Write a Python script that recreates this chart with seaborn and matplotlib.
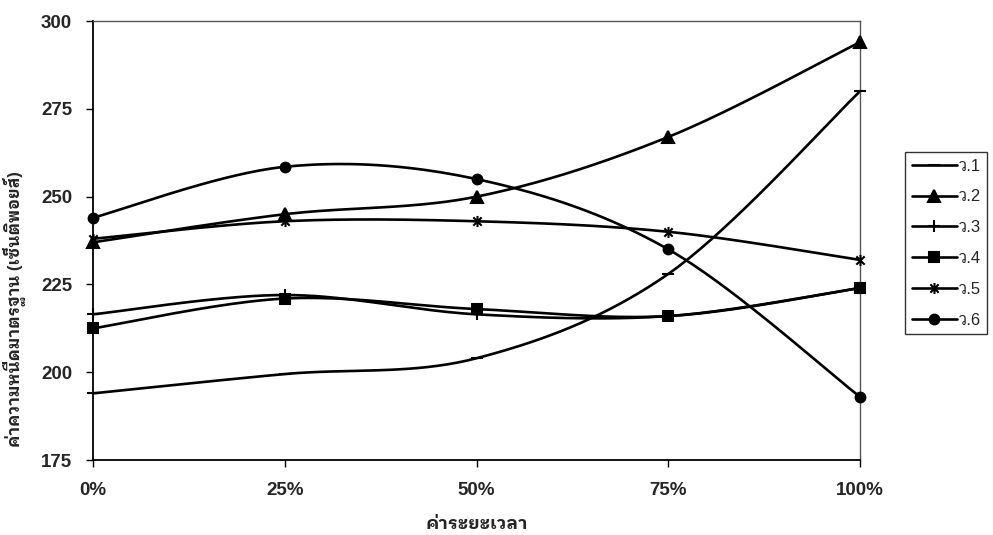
import numpy as np
import pandas as pd
import matplotlib
matplotlib.use("Agg")
import matplotlib.pyplot as plt
import seaborn as sns
from matplotlib.lines import Line2D
from matplotlib.path import Path

# ข้อมูล
periods = [0, 25, 50, 75, 100]
x_labels = ['0%', '25%', '50%', '75%', '100%']
series_names = ['ว.1', 'ว.2', 'ว.3', 'ว.4', 'ว.5', 'ว.6']
v1 = [194, 199.5, 204, 228, 280]
v2 = [237, 245, 250, 267, 294]
v3 = [216.5, 222, 216.5, 216, 224]
v4 = [212.5, 221, 218, 216, 224]
v5 = [238, 243, 243, 240, 232]
v6 = [244, 258.5, 255, 235, 193]
values = [v1, v2, v3, v4, v5, v6]


def smooth(xs, ys, n=40):
    # เส้นโค้งแบบ Excel (Catmull-Rom -> Bezier)
    p = np.column_stack([xs, ys]).astype(float)
    p = np.vstack([p[0], p, p[-1]])
    out = []
    t = np.linspace(0, 1, n)[:, None]
    for i in range(1, len(p) - 2):
        p0, p1, p2, p3 = p[i - 1], p[i], p[i + 1], p[i + 2]
        c1 = p1 + (p2 - p0) / 6
        c2 = p2 - (p3 - p1) / 6
        seg = ((1 - t) ** 3) * p1 + 3 * ((1 - t) ** 2) * t * c1 + 3 * (1 - t) * t ** 2 * c2 + t ** 3 * p2
        out.append(seg if i == 1 else seg[1:])
    out = np.vstack(out)
    return out[:, 0], out[:, 1]


rows = []
for name, vals in zip(series_names, values):
    sx, sy = smooth(periods, vals)
    rows.append(pd.DataFrame({'x': sx, 'y': sy, 'series': name}))
curves = pd.concat(rows, ignore_index=True)

star = Path([(0, -1), (0, 1), (-0.75, -0.75), (0.75, 0.75), (-0.75, 0.75), (0.75, -0.75)],
            [Path.MOVETO, Path.LINETO, Path.MOVETO, Path.LINETO, Path.MOVETO, Path.LINETO])
markers = ['_', '^', '+', 's', star, 'o']
msizes = [8, 8, 9, 7, 8, 7]

sns.set_style('white')
plt.rcParams['font.family'] = ['Liberation Sans', 'IBM Plex Sans Thai Looped', 'DejaVu Sans']

fig = plt.figure(figsize=(9.93, 5.35), dpi=100)
ax = fig.add_axes([0.0937, 0.14, 0.7724, 0.8207])

sns.lineplot(data=curves, x='x', y='y', hue='series', palette=['black'] * 6,
             sort=False, estimator=None, legend=False, linewidth=1.9, ax=ax)
for vals, m, ms in zip(values, markers, msizes):
    ax.plot(periods, vals, linestyle='none', marker=m, markersize=ms, color='black',
            markeredgewidth=1.5, clip_on=False, zorder=5)

ax.set_xlim(0, 100)
ax.set_ylim(175, 300)
ax.set_xticks(periods)
ax.set_xticklabels(x_labels)
ax.set_yticks([175, 200, 225, 250, 275, 300])
ax.tick_params(axis='both', direction='out', length=5, width=1, color='black',
               labelsize=13.5, bottom=True, left=True)
ax.tick_params(axis='y', pad=10)
ax.tick_params(axis='x', pad=11)
for lab in ax.get_xticklabels() + ax.get_yticklabels():
    lab.set_fontweight('bold')
for s in ['left', 'bottom']:
    ax.spines[s].set_color('black')
    ax.spines[s].set_linewidth(1.3)
for s in ['top', 'right']:
    ax.spines[s].set_color('#555555')
    ax.spines[s].set_linewidth(1.0)

ax.set_xlabel('ค่าระยะเวลา', fontsize=13, fontweight='bold')
ax.xaxis.set_label_coords(0.5, -0.128)
ax.set_ylabel('ค่าความหนืดมาตรฐาน (เซ็นติพอยส์)', fontsize=12, fontweight='bold')
ax.yaxis.set_label_coords(-0.088, 0.344)

handles = [Line2D([0], [0], color='black', linewidth=1.9, marker=m, markersize=ms,
                  markeredgewidth=1.5) for m, ms in zip(markers, msizes)]
leg = fig.legend(handles, series_names, loc='upper left', bbox_to_anchor=(0.9114, 0.716),
                 borderaxespad=0, frameon=True, fancybox=False, edgecolor='black', fontsize=12,
                 handlelength=2.7, handletextpad=0.1, labelspacing=0.95, borderpad=0.4)
leg.get_frame().set_linewidth(1.0)

fig.savefig('out.png', dpi=100)
